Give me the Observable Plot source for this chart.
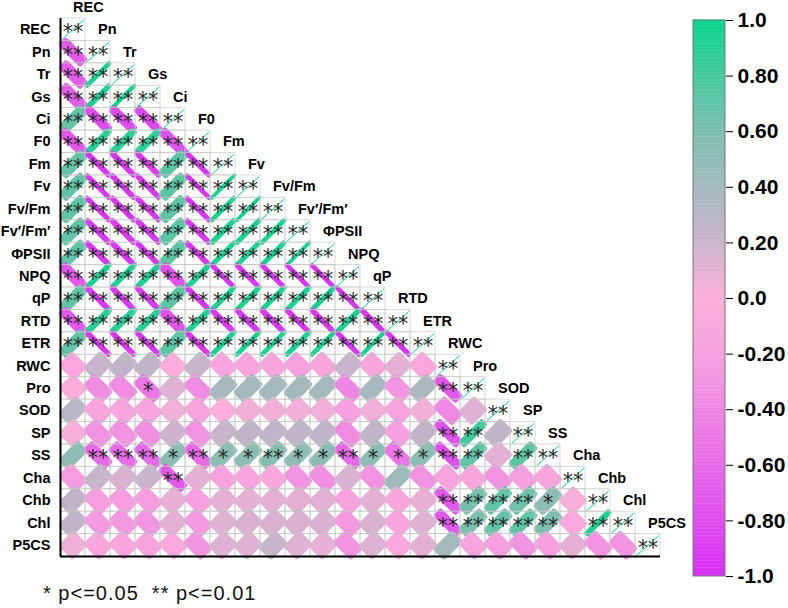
<!DOCTYPE html>
<html><head><meta charset="utf-8">
<script src="https://cdn.jsdelivr.net/npm/d3@7"></script>
<script src="https://cdn.jsdelivr.net/npm/@observablehq/plot@0.6"></script>
<style>
body{margin:0;background:#fff;font-family:"Liberation Sans",Arial,sans-serif;}
#wrap{position:relative;width:788px;height:608px;overflow:hidden;background:#fff}
#main{position:absolute;left:0;top:0}
#bar{position:absolute;left:680px;top:0}
#note{position:absolute;left:43px;top:583px;font-size:20px;line-height:20px;letter-spacing:1px;white-space:pre;color:#111}
</style></head><body>
<div id="wrap"><div id="main"></div><div id="bar"></div><div id="note">* p&lt;=0.05  ** p&lt;=0.01</div></div>
<script>
// Variables (rows / columns)
const vars = ["REC","Pn","Tr","Gs","Ci","F0","Fm","Fv","Fv/Fm","Fv′/Fm′","ΦPSII","NPQ","qP","RTD","ETR","RWC","Pro","SOD","SP","SS","Cha","Chb","Chl","P5CS"];

// Lower-triangle correlation coefficients (row vs earlier columns)
const rPn = [-0.70];
const rTr = [-0.68, 0.95];
const rGs = [-0.68, 0.93, 0.96];
const rCi = [0.68, -0.80, -0.80, -0.82];
const rF0 = [-0.72, 0.90, 0.88, 0.88, -0.76];
const rFm = [0.68, -0.93, -0.92, -0.92, 0.72, -0.94];
const rFv = [0.70, -0.94, -0.93, -0.93, 0.72, -0.95, 0.97];
const rFvFm = [0.70, -0.94, -0.93, -0.93, 0.72, -0.94, 0.95, 0.97];
const rFvpFmp = [0.70, -0.92, -0.92, -0.92, 0.72, -0.93, 0.93, 0.94, 0.95];
const rPhiPSII = [0.70, -0.92, -0.92, -0.93, 0.72, -0.93, 0.94, 0.94, 0.94, 0.97];
const rNPQ = [-0.72, 0.93, 0.93, 0.92, -0.75, 0.93, -0.94, -0.94, -0.94, -0.95, -0.95];
const rqP = [0.70, -0.92, -0.92, -0.92, 0.72, -0.93, 0.94, 0.94, 0.94, 0.94, 0.94, -0.95];
const rRTD = [-0.72, 0.90, 0.90, 0.90, -0.75, 0.92, -0.92, -0.92, -0.92, -0.93, -0.93, 0.93, -0.93];
const rETR = [0.70, -0.93, -0.93, -0.93, 0.72, -0.93, 0.94, 0.95, 0.95, 0.94, 0.95, -0.94, 0.96, -0.94];
const rRWC = [-0.10, 0.22, 0.25, 0.25, -0.05, 0.22, -0.15, -0.15, -0.15, -0.18, -0.12, 0.22, -0.12, 0.10, -0.10];
const rPro = [-0.02, -0.35, -0.35, -0.50, 0.12, -0.35, 0.38, 0.40, 0.40, 0.40, 0.40, -0.40, 0.38, -0.28, 0.35, -0.72];
const rSOD = [0.30, -0.15, -0.15, -0.15, 0.05, -0.15, 0.00, 0.05, 0.05, 0.05, 0.05, -0.20, 0.05, -0.15, 0.05, -0.38, 0.12];
const rSP = [0.03, -0.30, -0.30, -0.32, 0.18, -0.30, 0.22, 0.25, 0.25, 0.25, 0.25, -0.35, 0.25, -0.20, 0.25, -0.76, 0.82, 0.25];
const rSS = [0.50, -0.60, -0.60, -0.60, 0.52, -0.60, 0.52, 0.52, 0.56, 0.52, 0.52, -0.60, 0.52, -0.52, 0.52, -0.78, 0.70, 0.10, 0.72];
const rCha = [-0.22, 0.22, 0.15, 0.20, -0.70, 0.10, -0.18, -0.15, -0.10, -0.30, -0.33, 0.15, -0.30, 0.42, -0.30, -0.15, -0.12, -0.30, -0.20, -0.12];
const rChb = [0.25, -0.22, -0.22, -0.22, 0.08, -0.20, 0.10, 0.10, 0.10, 0.10, 0.10, -0.18, 0.10, -0.12, 0.08, -0.72, 0.62, 0.70, 0.65, 0.52, 0.02];
const rChl = [0.25, -0.25, -0.25, -0.28, 0.10, -0.25, 0.12, 0.14, 0.14, 0.14, 0.14, -0.25, 0.14, -0.15, 0.12, -0.72, 0.60, 0.68, 0.70, 0.58, -0.08, 0.92];
const rP5CS = [0.06, -0.12, -0.12, -0.15, -0.10, -0.28, 0.12, 0.12, 0.22, 0.12, 0.08, -0.30, 0.12, -0.08, 0.10, 0.40, -0.15, -0.20, -0.30, -0.20, 0.10, -0.30, -0.30];

// Significance per cell: number of stars (0, 1 = p<=0.05, 2 = p<=0.01)
const sPn = "2";
const sTr = "22";
const sGs = "222";
const sCi = "2222";
const sF0 = "22222";
const sFm = "222222";
const sFv = "2222222";
const sFvFm = "22222222";
const sFvpFmp = "222222222";
const sPhiPSII = "2222222222";
const sNPQ = "22222222222";
const sqP = "222222222222";
const sRTD = "2222222222222";
const sETR = "22222222222222";
const sRWC = "000000000000000";
const sPro = "0001000000000002";
const sSOD = "00000000000000000";
const sSP = "000000000000000220";
const sSS = "0222121121121112202";
const sCha = "00002000000000000000";
const sChb = "000000000000000222210";
const sChl = "0000000000000002222202";
const sP5CS = "00000000000000000000000";

// Colour bar ticks and colour stops
const barTicks = [1, 0.8, 0.6, 0.4, 0.2, 0, -0.2, -0.4, -0.6, -0.8, -1];
const colorStops = [-1, -0.8, -0.6, -0.4, -0.2, 0, 0.2, 0.4, 0.6, 0.8, 1];
const colorRange = ["#d62ef6","#de4cee","#e76ae8","#ee86e3","#f6a0df","#fdaedb","#cab4cc","#a3b9bd","#7bbfad","#45c99e","#06d68b"];

const rRows = [[], rPn, rTr, rGs, rCi, rF0, rFm, rFv, rFvFm, rFvpFmp, rPhiPSII, rNPQ, rqP, rRTD, rETR, rRWC, rPro, rSOD, rSP, rSS, rCha, rChb, rChl, rP5CS];
const sRows = ["", sPn, sTr, sGs, sCi, sF0, sFm, sFv, sFvFm, sFvpFmp, sPhiPSII, sNPQ, sqP, sRTD, sETR, sRWC, sPro, sSOD, sSP, sSS, sCha, sChb, sChl, sP5CS];

const cells = [];
rRows.forEach((vals, i) => vals.forEach((r, j) => cells.push({row: i, col: j, r, sig: "*".repeat(+sRows[i][j])})));
const diag = vars.map((v, i) => ({row: i, col: i, r: 1, sig: "**"}));

// Rounded, rotated ellipse-like glyph outline for each cell, in data units
const W = 680, H = 600, mL = 60, mR = 20, mT = 18, mB = 44;
const n = vars.length;
const xUnit = (W - mL - mR) / n, yUnit = (H - mT - mB) / n;
const K = 10.6, P = 9, STEPS = 72, s2 = Math.SQRT1_2;
const outline = [];
cells.forEach((c, id) => {
  const ar = Math.abs(c.r);
  const a = K * Math.pow(1 + ar, 0.75), b = K * Math.sqrt(Math.max(0.004, 1 - ar));
  const e1 = c.r >= 0 ? [s2, -s2] : [s2, s2];
  const e2 = c.r >= 0 ? [s2, s2] : [-s2, s2];
  for (let k = 0; k <= STEPS; k++) {
    const t = 2 * Math.PI * k / STEPS, ct = Math.cos(t), st = Math.sin(t);
    const u = a * Math.sign(ct) * Math.pow(Math.abs(ct), 2 / P);
    const v = b * Math.sign(st) * Math.pow(Math.abs(st), 2 / P);
    const px = u * e1[0] + v * e2[0], py = u * e1[1] + v * e2[1];
    outline.push({id, r: c.r, x: c.col + 0.5 + px / xUnit, y: c.row + 0.5 + py / yUnit});
  }
});
const gridCells = cells.concat(diag);
const starCells = cells.filter(c => c.sig).concat(diag);
const colorScale = {type: "linear", domain: colorStops, range: colorRange, interpolate: "rgb"};

const main = Plot.plot({
  width: W, height: H, marginLeft: mL, marginRight: mR, marginTop: mT, marginBottom: mB,
  style: {fontFamily: "Liberation Sans, Arial, sans-serif", color: "#000", background: "transparent", overflow: "visible"},
  x: {domain: [0, n], axis: null},
  y: {domain: [n, 0], axis: null},
  color: colorScale,
  marks: [
    Plot.line(outline, {x: "x", y: "y", z: "id", fill: "r", stroke: "none"}),
    Plot.rect(gridCells, {x1: "col", x2: d => d.col + 1, y1: "row", y2: d => d.row + 1, fill: "none", stroke: "#c4c4c4", strokeWidth: 0.8, strokeOpacity: 0.8}),
    Plot.link(diag, {x1: d => d.col + 0.06, y1: d => d.row + 0.94, x2: d => d.col + 0.94, y2: d => d.row + 0.06, stroke: "r", strokeWidth: 1}),
    Plot.text(starCells, {x: d => d.col + 0.5, y: d => d.row + 0.5, text: "sig", fontSize: 20.5, dy: 3.2, fill: "#262626", fontFamily: "DejaVu Sans, sans-serif"}),
    Plot.text(vars, {x: 0, y: (d, i) => i + 0.5, text: d => d, textAnchor: "end", dx: -10, fontSize: 14.5, fontWeight: "bold"}),
    Plot.text(vars, {x: (d, i) => i + 0.5, y: (d, i) => i - 0.5, text: d => d, textAnchor: "start", fontSize: 14.5, fontWeight: "bold"}),
    Plot.ruleX([0], {y1: 0, y2: n, stroke: "#000", strokeWidth: 2}),
    Plot.ruleY([n], {x1: 0, x2: n, stroke: "#000", strokeWidth: 2})
  ]
});
document.getElementById("main").appendChild(main);

// Colour bar
const steps = d3.range(-1, 1, 0.005);
const bar = Plot.plot({
  width: 108, height: 600, marginLeft: 13, marginRight: 63, marginTop: 20, marginBottom: 24,
  style: {fontFamily: "Liberation Sans, Arial, sans-serif", fontSize: "21px", fontWeight: "bold", color: "#000", background: "transparent", overflow: "visible"},
  x: {domain: [0, 1], axis: null},
  y: {domain: [-1, 1], axis: "right", ticks: barTicks, tickSize: 7, tickPadding: 5, label: null,
      tickFormat: d => d === 1 ? "1.0" : d === -1 ? "-1.0" : d === 0 ? "0.0" : d.toFixed(2)},
  color: colorScale,
  marks: [
    Plot.rect(steps, {x1: 0, x2: 1, y1: d => d, y2: d => d + 0.0065, fill: d => d + 0.0025}),
    Plot.rect([0], {x1: 0, x2: 1, y1: -1, y2: 1, fill: "none", stroke: "#777", strokeWidth: 1})
  ]
});
document.getElementById("bar").appendChild(bar);
</script>
</body></html>
